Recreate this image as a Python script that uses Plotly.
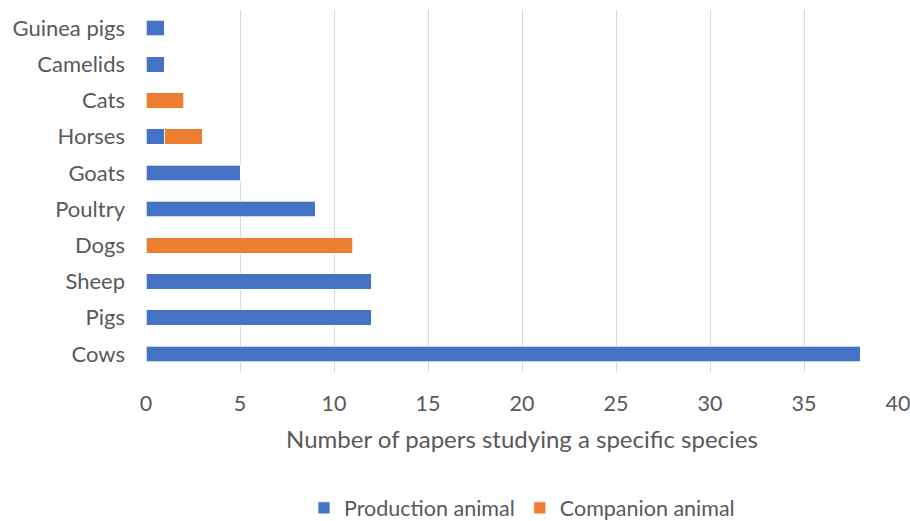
import plotly.graph_objects as go

categories = ["Cows", "Pigs", "Sheep", "Dogs", "Poultry", "Goats", "Horses", "Cats", "Camelids", "Guinea pigs"]
production = [38, 12, 12, 0, 9, 5, 1, 0, 1, 1]
companion = [0, 0, 0, 11, 0, 0, 2, 2, 0, 0]
x_ticks = [0, 5, 10, 15, 20, 25, 30, 35, 40]

FONT = "Lato"
TXT = "#595959"

fig = go.Figure()
fig.add_trace(go.Bar(y=categories, x=production, orientation="h", name="Production animal",
                     marker=dict(color="#4472C4", line=dict(color="white", width=0.7))))
fig.add_trace(go.Bar(y=categories, x=companion, orientation="h", name="Companion animal",
                     marker=dict(color="#ED7D31", line=dict(color="white", width=0.7))))

fig.update_layout(
    barmode="stack",
    bargap=0.57,
    width=910, height=521,
    margin=dict(l=146, r=12, t=10, b=149, autoexpand=False),
    paper_bgcolor="white", plot_bgcolor="white",
    font=dict(family=FONT, size=21.5, color=TXT),
    showlegend=True,
    legend=dict(orientation="h", x=0.5, xanchor="center", y=-0.432, yanchor="bottom",
                font=dict(size=21.5, color=TXT), itemwidth=30, traceorder="normal"),
    xaxis=dict(range=[0, 40], tickvals=x_ticks, showgrid=True, gridcolor="#D9D9D9", gridwidth=1.3,
               zeroline=False, showline=False, ticklabelstandoff=16, automargin=False,
               ticklabeloverflow="allow",
               title=dict(text="Number of papers studying a specific species", standoff=16,
                          font=dict(size=24, color=TXT))),
    yaxis=dict(categoryorder="array", categoryarray=categories, showgrid=False, zeroline=False,
               showline=False, ticklabelstandoff=20, automargin=False, tickfont=dict(size=22)),
)

fig.write_html("out.html")
